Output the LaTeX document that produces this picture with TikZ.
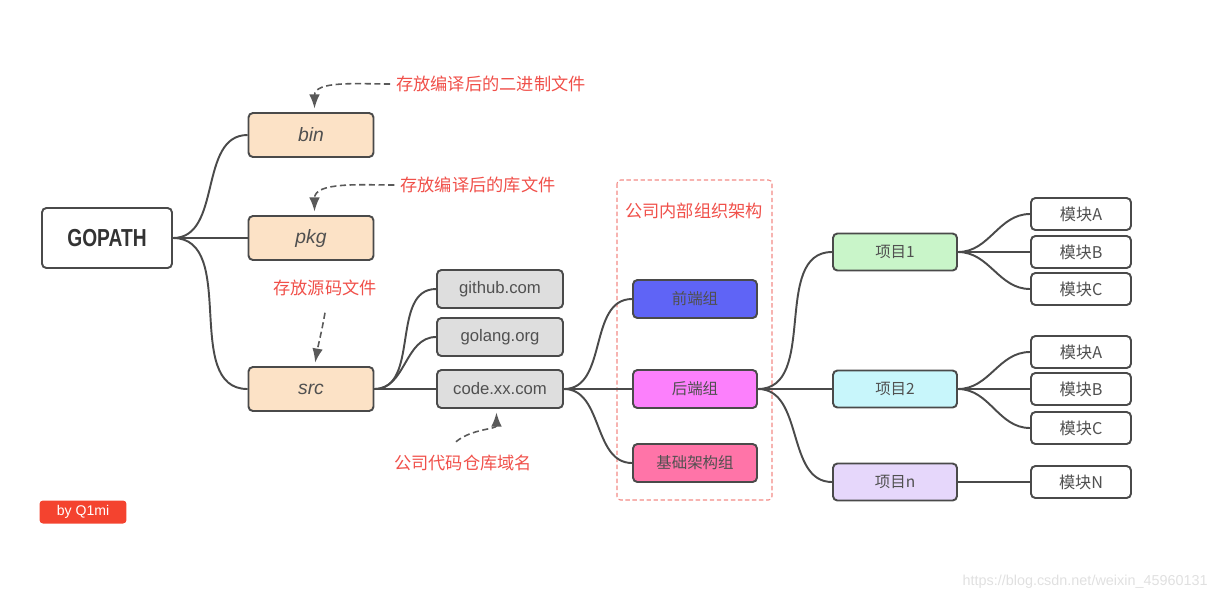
\documentclass[tikz,border=0pt]{standalone}
\usepackage{fontspec}
\setmainfont{Liberation Sans}
\newfontfamily\cjk{Noto Sans CJK SC}
\newfontfamily\condfont[FakeStretch=0.78]{Liberation Sans}
\usetikzlibrary{arrows.meta,positioning}

\definecolor{linegray}{HTML}{4A4A4A}
\definecolor{darktext}{HTML}{505050}
\definecolor{peach}{HTML}{FCE2C6}
\definecolor{sitegray}{HTML}{DEDEDE}
\definecolor{frontblue}{HTML}{5F64F6}
\definecolor{backpink}{HTML}{FC80FC}
\definecolor{basepink}{HTML}{FF74A8}
\definecolor{projgreen}{HTML}{C9F5C9}
\definecolor{projcyan}{HTML}{C8F6FB}
\definecolor{projlilac}{HTML}{E6D7FB}
\definecolor{notered}{HTML}{F0504A}
\definecolor{framered}{HTML}{F28A85}
\definecolor{badgered}{HTML}{F4432F}

\tikzset{
  mapbox/.style={draw=linegray, line width=1.1pt, rounded corners=2.5pt, text=darktext, inner sep=0pt},
  rootbox/.style={mapbox, fill=white, text=black!80, minimum width=2.6cm, minimum height=1.2cm, font=\condfont\bfseries\fontsize{14}{16}\selectfont},
  dirbox/.style={mapbox, fill=peach, minimum width=2.5cm, minimum height=0.88cm, font=\itshape\fontsize{11}{13}\selectfont},
  sitebox/.style={mapbox, fill=sitegray, minimum width=2.52cm, minimum height=0.76cm, font=\fontsize{9.5}{11}\selectfont},
  teambox/.style={mapbox, minimum width=2.48cm, minimum height=0.76cm, font=\cjk\fontsize{8.8}{10}\selectfont},
  projbox/.style={mapbox, minimum width=2.48cm, minimum height=0.74cm, font=\cjk\fontsize{8.8}{10}\selectfont},
  modbox/.style={mapbox, fill=white, minimum width=2cm, minimum height=0.64cm, font=\cjk\fontsize{9.2}{10}\selectfont},
  link/.style={draw=linegray, line width=1.1pt},
  swoop/.style={out=0, in=180},
  note/.style={text=notered, font=\cjk\fontsize{9.8}{11}\selectfont},
  notearrow/.style={draw=gray!70!black, dashed, dash pattern=on 3.5pt off 2pt, line width=0.9pt, shorten >=2pt, -{Latex[length=8pt,width=6pt]}},
  groupframe/.style={draw=framered, dashed, dash pattern=on 2.5pt off 1.5pt, line width=0.6pt, rounded corners=2pt},
}

\begin{document}
\begin{tikzpicture}[x=0.02cm, y=-0.02cm]
\useasboundingbox (0,0) rectangle (1218,600);

% left part
\node[rootbox] (gopath) at (107,238) {GOPATH};
\node[dirbox] (bin) at (311,135) {bin};
\node[dirbox] (pkg) at (311,238) {pkg};
\node[dirbox] (src) at (311,389) {src};

\node[sitebox] (github) at (500,289) {github.com};
\node[sitebox] (golang) at (500,337) {golang.org};
\node[sitebox] (code) at (500,389) {code.xx.com};

% company groups
\draw[groupframe] (617,180) rectangle (772,500);
\node[note] (orgtitle) at (694,211) {公司内部组织架构};
\node[teambox, fill=frontblue] (front) at (695,299) {前端组};
\node[teambox, fill=backpink] (back) at (695,389) {后端组};
\node[teambox, fill=basepink] (base) at (695,463) {基础架构组};

% projects
\node[projbox, fill=projgreen] (p1) at (895,252) {项目1};
\node[projbox, fill=projcyan] (p2) at (895,389) {项目2};
\node[projbox, fill=projlilac] (pn) at (895,482) {项目n};

\node[modbox] (m1a) at (1081,214) {模块A};
\node[modbox] (m1b) at (1081,252) {模块B};
\node[modbox] (m1c) at (1081,289) {模块C};
\node[modbox] (m2a) at (1081,352) {模块A};
\node[modbox] (m2b) at (1081,389) {模块B};
\node[modbox] (m2c) at (1081,428) {模块C};
\node[modbox] (mnn) at (1081,482) {模块N};

% connectors
\foreach \kid in {bin,pkg,src}
  \draw[link] (gopath.east) to[swoop] (\kid.west);
\foreach \kid in {github,golang,code}
  \draw[link] (src.east) to[swoop] (\kid.west);
\foreach \kid in {front,back,base}
  \draw[link] (code.east) to[swoop] (\kid.west);
\foreach \kid in {p1,p2,pn}
  \draw[link] (back.east) to[swoop] (\kid.west);
\foreach \kid in {m1a,m1b,m1c}
  \draw[link] (p1.east) to[swoop] (\kid.west);
\foreach \kid in {m2a,m2b,m2c}
  \draw[link] (p2.east) to[swoop] (\kid.west);
\draw[link] (pn.east) -- (mnn.west);

% notes
\node[note] (binnote) at (491,84) {存放编译后的二进制文件};
\node[note] (pkgnote) at (478,185) {存放编译后的库文件};
\node[note] (srcnote) at (325,288) {存放源码文件};
\node[note] (codenote) at (463,463) {公司代码仓库域名};

\draw[notearrow] (binnote.west) to[out=180, in=90] ([xshift=2]bin.north);
\draw[notearrow] (pkgnote.west) to[out=180, in=90] ([xshift=2]pkg.north);
\draw[notearrow] ([yshift=-6]srcnote.south) to[out=-100, in=80] ([xshift=2]src.north);
\draw[notearrow] ([xshift=-4, yshift=4]codenote.north) to[out=40, in=-90] ([xshift=-2]code.south);

% badge and watermark
\node[fill=badgered, rounded corners=2pt, minimum width=1.74cm, minimum height=0.46cm, inner sep=0pt, text=white, font=\fontsize{8}{9}\selectfont] (badge) at (83,512) {by Q1mi};
\node[anchor=east, inner sep=0pt, text=black!12, font=\fontsize{8.2}{10}\selectfont] (mark) at (1208,582) {https://blog.csdn.net/weixin\_45960131};
\end{tikzpicture}
\end{document}
